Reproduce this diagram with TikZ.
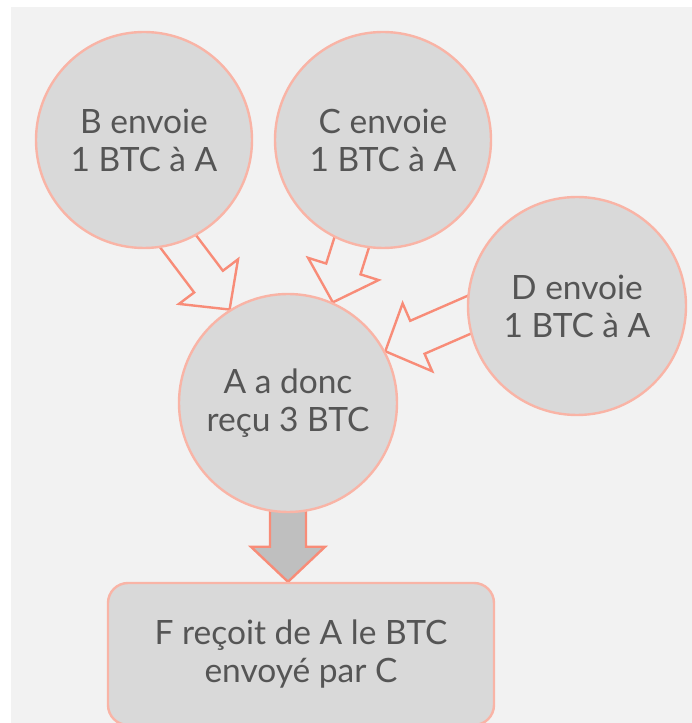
\documentclass[tikz,border=0pt]{standalone}
\usepackage{fontspec}
\setmainfont{Lato}
\usetikzlibrary{calc}
\pgfdeclarelayer{back}
\pgfdeclarelayer{mid}
\pgfsetlayers{back,mid,main}
\definecolor{bgpanel}{HTML}{F2F2F2}
\definecolor{bubble}{HTML}{D9D9D9}
\definecolor{rim}{HTML}{F9B4A6}
\definecolor{arrowline}{HTML}{F88C78}
\definecolor{arrowgray}{HTML}{BFBFBF}
\definecolor{txt}{HTML}{555555}
% block arrow from #2 to the tip #3
\newcommand\barrow[3]{%
  \coordinate (s) at ($(#2)!-14pt!(#3)$);
  \coordinate (h) at ($(#3)!35pt!(#2)$);
  \draw[#1] ($(s)!18pt!90:(#3)$) -- ($(h)!18pt!90:(#3)$) -- ($(h)!37pt!90:(#3)$)
    -- (#3) -- ($(h)!37pt!-90:(#3)$) -- ($(h)!18pt!-90:(#3)$) -- ($(s)!18pt!-90:(#3)$) -- cycle;}
\begin{document}
\begin{tikzpicture}[x=1pt,y=1pt]
	\tikzset{
		bubblenode/.style={circle,fill=bubble,draw=rim,line width=2.4pt,text=txt,align=center,
			font=\fontsize{33.5}{38}\selectfont},
		outarrow/.style={draw=arrowline,fill=bgpanel,line width=2.4pt,line join=miter},
		downarrow/.style={draw=arrowline,fill=arrowgray,line width=2.4pt,line join=miter}
	}
	\useasboundingbox (0,0) rectangle (692,723);
	\begin{pgfonlayer}{back}
		\fill[bgpanel] (11,0) rectangle (692,716);
	\end{pgfonlayer}

	\node[bubblenode,minimum size=216pt] (B) at (144,583) {B envoie\\1 BTC à A};
	\node[bubblenode,minimum size=216pt] (C) at (383,583) {C envoie\\1 BTC à A};
	\node[bubblenode,minimum size=218pt] (D) at (577,417) {D envoie\\1 BTC à A};
	\node[bubblenode,minimum size=218pt] (A) at (288,320) {A a donc\\reçu 3 BTC};
	\node[bubblenode,rectangle,rounded corners=20pt,minimum width=386pt,minimum height=142pt]
		(F) at (301,69) {F reçoit de A le BTC\\envoyé par C};
	\coordinate (Ftop) at (F.north -| A.south);

	\begin{pgfonlayer}{mid}
		\barrow{outarrow}{B.-71}{A.122}
		\barrow{outarrow}{C.-107}{A.66}
		\barrow{outarrow}{D.185}{A.28}
		\barrow{downarrow}{A.south}{Ftop}
	\end{pgfonlayer}
\end{tikzpicture}
\end{document}
